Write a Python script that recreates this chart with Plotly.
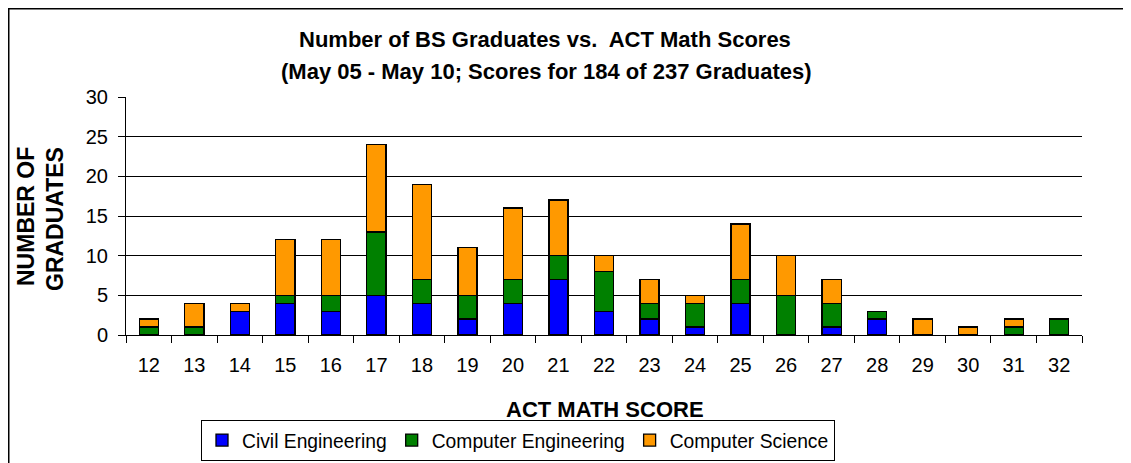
import plotly.graph_objects as go

scores = ["12","13","14","15","16","17","18","19","20","21","22","23","24","25","26","27","28","29","30","31","32"]
civil = [0,0,3,4,3,5,4,2,4,7,3,2,1,4,0,1,2,0,0,0,0]
comp_eng = [1,1,0,1,2,8,3,3,3,3,5,2,3,3,5,3,1,0,0,1,2]
comp_sci = [1,3,1,7,7,11,12,6,9,7,2,3,1,7,5,3,0,2,1,1,0]

series = [("Civil Engineering", civil, "#0000FF"),
          ("Computer Engineering", comp_eng, "#008000"),
          ("Computer Science", comp_sci, "#FF9900")]

FONT = "Liberation Sans, Arial, sans-serif"
fig = go.Figure()
for name, vals, col in series:
    fig.add_trace(go.Bar(x=scores, y=vals, name=name,
                         marker=dict(color=col, line=dict(color="black", width=1.3))))

# page is offset by the 8px body margin
OFF = 8
W, H = 1131 - OFF, 463 - OFF
PL, PT, PR, PB = 126, 97, 1082, 335   # plot area in page pixels
L, T = PL - OFF, PT - OFF
pw, ph = PR - PL, PB - PT
R = W - L - pw
B = H - T - ph
def px(x): return (x - PL) / pw
def py(y): return (PB - y) / ph

fig.update_layout(
    width=W, height=H, barmode="stack", bargap=0.58,
    margin=dict(l=L, r=R, t=T, b=B, autoexpand=False),
    paper_bgcolor="white", plot_bgcolor="white",
    font=dict(family=FONT, size=20, color="black"),
    showlegend=True,
    legend=dict(orientation="h", x=px(201), y=py(420), xanchor="left", yanchor="top",
                bordercolor="black", borderwidth=1, font=dict(size=19.3, family=FONT),
                traceorder="normal", itemwidth=30),
    xaxis=dict(type="category", showline=True, linecolor="black", linewidth=1,
               ticks="outside", tickson="boundaries", ticklen=7, tickcolor="black",
               showgrid=False, tickfont=dict(size=20), ticklabelstandoff=12),
    yaxis=dict(range=[0, 30], dtick=5, showline=True, linecolor="black", linewidth=1,
               ticks="outside", ticklen=7, tickcolor="black",
               showgrid=True, gridcolor="black", gridwidth=1, tickfont=dict(size=20),
               zeroline=False, ticklabelstandoff=6),
    shapes=[dict(type="rect", xref="paper", yref="paper", x0=px(8.75), x1=px(1140),
                 y0=py(480), y1=py(8.75),
                 line=dict(color="black", width=1.5), fillcolor="rgba(0,0,0,0)", layer="below")],
    annotations=[
        dict(text="<b>Number of BS Graduates vs.  ACT Math Scores</b>",
             xref="paper", yref="paper", x=px(545), y=py(40), xanchor="center", yanchor="middle",
             showarrow=False, font=dict(size=22, family=FONT)),
        dict(text="<b>(May 05 - May 10; Scores for 184 of 237 Graduates)</b>",
             xref="paper", yref="paper", x=px(546), y=py(72), xanchor="center", yanchor="middle",
             showarrow=False, font=dict(size=22, family=FONT)),
        dict(text="<b>ACT MATH SCORE</b>", xref="paper", yref="paper", x=px(605), y=py(409),
             xanchor="center", yanchor="middle", showarrow=False, font=dict(size=22, family=FONT)),
        dict(text="<b>NUMBER OF</b>", xref="paper", yref="paper", x=px(26), y=py(217),
             xanchor="center", yanchor="middle", textangle=-90, showarrow=False,
             font=dict(size=23, family=FONT)),
        dict(text="<b>GRADUATES</b>", xref="paper", yref="paper", x=px(55), y=py(219),
             xanchor="center", yanchor="middle", textangle=-90, showarrow=False,
             font=dict(size=23, family=FONT)),
    ],
)
fig.write_html("out.html")
